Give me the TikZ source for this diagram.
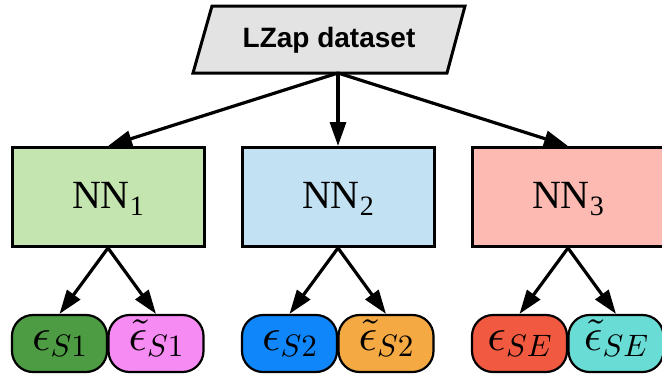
\documentclass[tikz,border=0pt]{standalone}
\usepackage[no-math]{fontspec}
\newfontfamily\titlefont{Liberation Sans}
\newfontfamily\netfont{Liberation Serif}
\usetikzlibrary{arrows.meta}

\definecolor{datagray}{HTML}{E3E3E3}
\definecolor{netgreen}{HTML}{C5E5B0}
\definecolor{netblue}{HTML}{C2E2F4}
\definecolor{netpink}{HTML}{FCBAB3}
\definecolor{errgreen}{HTML}{4D9B43}
\definecolor{errviolet}{HTML}{F68BF4}
\definecolor{errblue}{HTML}{0F86FA}
\definecolor{errorange}{HTML}{F4A943}
\definecolor{errred}{HTML}{F15A41}
\definecolor{errcyan}{HTML}{6ADCD6}

% network label with a lowered index
\newcommand{\netlabel}[1]{NN\raisebox{-7pt}{\fontsize{28}{28}\selectfont #1}}
% error label: symbol plus a lowered index (math scaled up from 10pt)
\newcommand{\errlabel}[2]{\scalebox{4.6}{$#1$}\raisebox{-6pt}{\scalebox{3.1}{$#2$}}}

\begin{document}
\begin{tikzpicture}[x=1pt, y=-1pt,
  conn/.style={line width=3.2pt, -{Triangle[length=24pt, width=16pt]}},
  netbox/.style={draw, line width=3pt, minimum width=192pt, minimum height=99pt,
    inner sep=0pt, text height=26pt, text depth=3pt,
    font=\netfont\fontsize{40}{42}\selectfont},
  errpill/.style={draw, line width=2.2pt, rounded corners=21pt, minimum width=95pt,
    minimum height=57pt, inner sep=0pt, text height=20pt, text depth=6pt,
    font=\fontsize{10}{12}\selectfont}]

\useasboundingbox (0,0) rectangle (662,373);

% dataset (parallelogram)
\draw[line width=3pt, fill=datagray] (212,6) -- (465,6) -- (447,73) -- (193,73) -- cycle;
\node[inner sep=0pt, text height=20pt, text depth=6pt,
  font=\titlefont\bfseries\fontsize{28}{30}\selectfont] (data) at (329,40) {LZap dataset};
\coordinate (fork) at (338,73);

% networks
\node[netbox, fill=netgreen] (nn1) at (108,197) {\netlabel{1}};
\node[netbox, fill=netblue]  (nn2) at (338,197) {\netlabel{2}};
\node[netbox, fill=netpink]  (nn3) at (568,197) {\netlabel{3}};

% error estimates
\node[errpill, fill=errgreen]  (e1) at (59.5,343.5) {\errlabel{\epsilon}{S1}};
\node[errpill, fill=errviolet] (t1) at (156,343.5)  {\errlabel{\tilde{\epsilon}}{S1}};
\node[errpill, fill=errblue]   (e2) at (289.5,343.5) {\errlabel{\epsilon}{S2}};
\node[errpill, fill=errorange] (t2) at (386,343.5)  {\errlabel{\tilde{\epsilon}}{S2}};
\node[errpill, fill=errred]    (e3) at (519.5,343.5) {\errlabel{\epsilon}{SE}};
\node[errpill, fill=errcyan]   (t3) at (616,343.5)  {\errlabel{\tilde{\epsilon}}{SE}};

% connectors
\draw[conn] (fork) -- (nn1.north);
\draw[conn] (fork) -- (nn2.north);
\draw[conn] (fork) -- (nn3.north);

\draw[conn] (nn1.south) -- (e1.north);
\draw[conn] (nn1.south) -- (t1.north);
\draw[conn] (nn2.south) -- (e2.north);
\draw[conn] (nn2.south) -- (t2.north);
\draw[conn] (nn3.south) -- (e3.north);
\draw[conn] (nn3.south) -- (t3.north);
\end{tikzpicture}
\end{document}
